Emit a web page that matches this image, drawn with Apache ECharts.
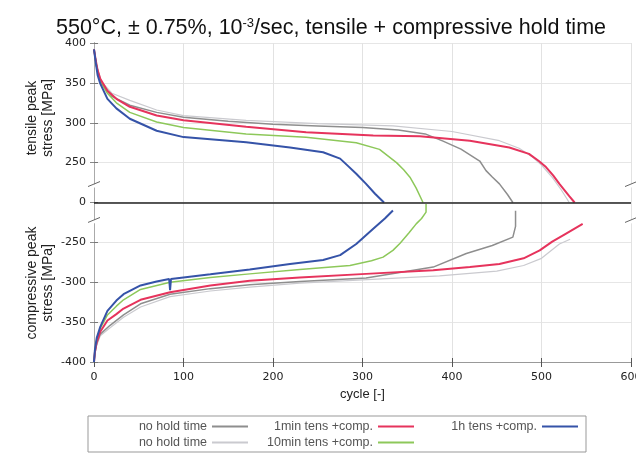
<!DOCTYPE html>
<html>
<head>
<meta charset="utf-8">
<script src="https://cdn.jsdelivr.net/npm/echarts@6/dist/echarts.min.js"></script>
<style>
  html, body { margin: 0; padding: 0; background: #fff; }
  #chart { width: 636px; height: 454px; }
</style>
</head>
<body>
<div id="chart"></div>
<script>
// y tick labels of the broken axis (bottom -> top)
const yTickLabels = ['-400', '-350', '-300', '-250', '0', '250', '300', '350', '400'];

// [cycle, stress MPa]
const noHoldA_tens = [[0,392],[3,370],[8,350],[20,333],[40,322],[70,313],[100,307],[150,302],[200,298],[250,296],[300,294],[340,291],[370,286],[390,277],[410,267],[431,252],[438,200],[445,160],[453,117],[462,50],[468,0]];
const noHoldA_comp = [[0,-400],[1,-389],[3,-377],[7,-365],[18,-354],[33,-341],[52,-327],[85,-315],[130,-308],[174,-303],[230,-299],[304,-294.6],[379,-281],[416,-264],[445,-254],[468,-217],[471,-150],[471,-52]];
const noHoldB_tens = [[0,393],[3,372],[8,352],[20,337],[40,328],[70,316],[100,309],[170,303],[250,299],[334,296],[400,289],[453,277.5],[475,268],[490,257],[500,235],[512,158],[522,80],[531,0]];
const noHoldB_comp = [[0,-400],[1,-390],[3,-379],[7,-367],[18,-357],[33,-344],[52,-331],[85,-318],[130,-311],[174,-306],[230,-301],[300,-297],[386,-292],[450,-286],[480,-279],[500,-270],[520,-252],[532,-230]];
const min1_tens = [[0,392],[2,378],[4,366],[7,355],[15,340],[25,330],[40,320],[70,309],[100,303],[170,295],[237,288],[312,284],[364,283],[420,277.5],[464,269],[486,261],[497,252],[505,222],[513,170],[520,117],[531,40],[537,0]];
const min1_comp = [[0,-400],[1,-388],[3,-375],[7,-362],[15,-348],[25,-340],[33,-333],[52,-322],[85,-312.6],[130,-304],[174,-298],[230,-294],[304,-289.5],[379,-285],[420,-281],[453,-277],[480,-270],[498,-260],[512,-245],[527,-196],[546,-134]];
const min10_tens = [[0,392],[2,377],[4,364],[7,352],[15,337],[25,325],[40,313],[70,301],[100,294],[170,286],[237,281.7],[293,275],[319,266.6],[338,250],[346,205],[353,159],[360,90],[367.6,0]];
const min10_comp = [[0,-400],[1,-386],[3,-372],[7,-358],[15,-341],[25,-330],[33,-322],[52,-309],[85,-300],[130,-294],[174,-289.5],[230,-284],[286,-279],[310,-273],[323,-268.5],[334,-260],[342,-251],[352,-190],[360,-134],[366,-100],[371,-60],[371,-10]];
const h1_tens = [[0,392],[2,375],[4,360],[7,349],[15,330],[25,318],[40,305],[70,290],[100,282],[170,275.5],[219,269],[256,263],[275,255],[284,228],[293,180],[304,117],[314,55],[324,0]];
const h1_comp = [[0,-400],[1,-385],[3,-370],[7,-356],[15,-336],[25,-323],[33,-315],[52,-304],[70,-299],[84,-296],[85,-310],[86,-296],[100,-294],[130,-290],[174,-284],[219,-277],[256,-272],[275,-266],[293,-252],[312,-165],[325,-100],[334,-50]];

// broken axis: 250..400 and -400..-250 linear, 0 squeezed in between
function toAxis(v) {
  if (v >= 250) return 5 + (v - 250) / 50;
  if (v <= -250) return 3 + (v + 250) / 50;
  return 4 + v / 250;
}
const conv = arr => arr.map(p => [p[0], toAxis(p[1])]);

const chart = echarts.init(document.getElementById('chart'));

function mkSeries(name, data, color, width) {
  return {
    name: name, type: 'line', data: conv(data), showSymbol: false,
    lineStyle: { color: color, width: width }, itemStyle: { color: color },
    silent: true, z: 3
  };
}

const series = [
  mkSeries('no hold time B', noHoldB_tens, '#cacacf', 1.2),
  mkSeries('no hold time B', noHoldB_comp, '#cacacf', 1.2),
  mkSeries('no hold time A', noHoldA_tens, '#8e8e8e', 1.5),
  mkSeries('no hold time A', noHoldA_comp, '#8e8e8e', 1.5),
  mkSeries('10min tens +comp.', min10_tens, '#8dc85a', 1.5),
  mkSeries('10min tens +comp.', min10_comp, '#8dc85a', 1.5),
  mkSeries('1min tens +comp.', min1_tens, '#e6335c', 2),
  mkSeries('1min tens +comp.', min1_comp, '#e6335c', 2),
  mkSeries('1h tens +comp.', h1_tens, '#3553a8', 2),
  mkSeries('1h tens +comp.', h1_comp, '#3553a8', 2)
];
// zero line
series[0].markLine = {
  silent: true, symbol: 'none', label: { show: false },
  lineStyle: { color: '#222', width: 1.5, type: 'solid' },
  data: [{ yAxis: toAxis(0) }]
};

function legendItem(name, right, top) {
  return {
    data: [name], right: right, top: top, align: 'right',
    icon: 'rect', itemWidth: 36, itemHeight: 2, selectedMode: false,
    padding: 0,
    formatter: n => n.replace(/ [AB]$/, ''),
    textStyle: { fontSize: 12.5, color: '#555', fontFamily: 'Liberation Sans' }
  };
}

const axisFont = { fontSize: 11, color: '#222', fontFamily: 'DejaVu Sans' };

// grid geometry
const G = { left: 94, right: 5, top: 43, bottom: 92 };

// break marks on both y axes
const breakMarks = [];
[4.45, 3.55].forEach((u, i) => {
  const y = G.top + (8 - u) / 8 * (454 - G.top - G.bottom);
  [G.left, 636 - G.right].forEach((x, j) => {
    breakMarks.push({ id: 'bw' + i + j, type: 'line', z: 10,
      shape: { x1: x - 6, y1: y + 4, x2: x + 6, y2: y - 1 },
      style: { stroke: '#fff', lineWidth: 3 } });
    breakMarks.push({ id: 'bk' + i + j, type: 'line', z: 11,
      shape: { x1: x - 6, y1: y + 2, x2: x + 6, y2: y - 3 },
      style: { stroke: '#666', lineWidth: 1 } });
  });
});

chart.setOption({
  animation: false,
  backgroundColor: '#fff',
  title: {
    text: '550°C, ± 0.75%, 10{sup|-3}/sec, tensile + compressive hold time',
    left: 51, top: 12,
    textStyle: {
      fontSize: 21.5, fontWeight: 'normal', color: '#111', fontFamily: 'Liberation Sans',
      rich: { sup: { fontSize: 13, verticalAlign: 'top', lineHeight: 13, padding: [0, 0, 7, 0], color: '#111', fontFamily: 'Liberation Sans' } }
    }
  },
  grid: { left: G.left, right: G.right, top: G.top, bottom: G.bottom, outerBoundsMode: 'none' },
  xAxis: [{
    type: 'value', min: 0, max: 600, interval: 100,
    name: 'cycle [-]', nameLocation: 'middle', nameGap: 25,
    nameTextStyle: { fontSize: 13, color: '#222', fontFamily: 'Liberation Sans' },
    axisLine: { lineStyle: { color: '#aaa' } },
    axisTick: { inside: true, length: 4, lineStyle: { color: '#555' } },
    axisLabel: Object.assign({ margin: 10 }, axisFont),
    splitLine: { lineStyle: { color: '#e2e2e2' } }
  }, {
    type: 'value', min: 0, max: 600, interval: 100, position: 'top',
    axisLine: { lineStyle: { color: '#999' } },
    axisTick: { inside: true, length: 5, lineStyle: { color: '#555' } },
    axisLabel: { show: false }, splitLine: { show: false }
  }],
  yAxis: [{
    type: 'value', min: 0, max: 8, interval: 1,
    axisLine: { show: true, lineStyle: { color: '#555' } },
    axisTick: { show: true, inside: true, length: 4, lineStyle: { color: '#777' } },
    axisLabel: Object.assign({ margin: 8, formatter: v => yTickLabels[Math.round(v)] }, axisFont),
    splitLine: { lineStyle: { color: '#e6e6e6' } }
  }, {
    type: 'value', min: 0, max: 8, interval: 1, position: 'right',
    axisLine: { show: true, lineStyle: { color: '#aaa' } },
    axisTick: { show: true, inside: true, length: 4, lineStyle: { color: '#888' } },
    axisLabel: { show: false }, splitLine: { show: false }
  }],
  legend: [
    legendItem('no hold time A', 388, 420),
    legendItem('no hold time B', 388, 436),
    legendItem('1min tens +comp.', 222, 420),
    legendItem('10min tens +comp.', 222, 436),
    legendItem('1h tens +comp.', 58, 420)
  ],
  graphic: [
    { id: 'yname1', type: 'text', x: 40, y: 118, rotation: Math.PI / 2,
      style: { text: 'tensile peak\nstress [MPa]', fontSize: 14, lineHeight: 16, fill: '#222', fontFamily: 'Liberation Sans', align: 'center', verticalAlign: 'middle' } },
    { id: 'yname2', type: 'text', x: 40, y: 283, rotation: Math.PI / 2,
      style: { text: 'compressive peak\nstress [MPa]', fontSize: 14, lineHeight: 16, fill: '#222', fontFamily: 'Liberation Sans', align: 'center', verticalAlign: 'middle' } },
    { id: 'legbox', type: 'rect', shape: { x: 88, y: 416, width: 498, height: 36 },
      style: { fill: 'none', stroke: '#999', lineWidth: 1 }, z: -1 }
  ].concat(breakMarks),
  series: series
});
</script>
</body>
</html>
